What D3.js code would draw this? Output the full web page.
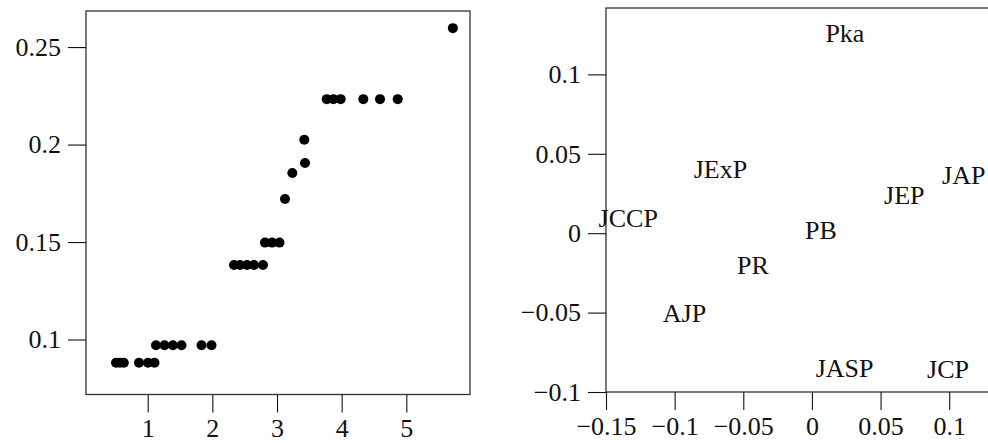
<!DOCTYPE html>
<html>
<head>
<meta charset="utf-8">
<script src="https://cdn.jsdelivr.net/npm/d3@7"></script>
</head>
<body style="margin:0">
<script>
// left panel: sorted values (index scale on x)
const dotX = [0.51, 0.57, 0.63, 0.865, 1.005, 1.105,
              1.128, 1.26, 1.39, 1.523, 1.832, 1.987,
              2.335, 2.428, 2.536, 2.644, 2.783,
              2.814, 2.923, 3.039,
              3.124, 3.237, 3.422, 3.433,
              3.769, 3.871, 3.985, 4.335, 4.593, 4.867,
              5.72];
const dotY = [0.0881, 0.0881, 0.0881, 0.0881, 0.0881, 0.0881,
              0.0971, 0.0971, 0.0971, 0.0971, 0.0971, 0.0971,
              0.1382, 0.1382, 0.1382, 0.1382, 0.1382,
              0.1497, 0.1497, 0.1497,
              0.1721, 0.1854, 0.2025, 0.1905,
              0.2233, 0.2233, 0.2233, 0.2233, 0.2233, 0.2233,
              0.2597];

// right panel: labelled coordinates
const journals = ["Pka", "JExP", "JAP", "JEP", "JCCP", "PB", "PR", "AJP", "JASP", "JCP"];
const coordX = [0.024, -0.0666, 0.1106, 0.0673, -0.1338, 0.0066, -0.043, -0.0928, 0.0238, 0.0991];
const coordY = [0.126, 0.040, 0.0366, 0.024, 0.0093, 0.0017, -0.0204, -0.0506, -0.0853, -0.0858];

const leftXTicks = [1, 2, 3, 4, 5];
const leftYTicks = [0.1, 0.15, 0.2, 0.25];
const rightXTicks = [-0.15, -0.1, -0.05, 0, 0.05, 0.1];
const rightYTicks = [-0.1, -0.05, 0, 0.05, 0.1];

const W = 988, H = 443;
const face = "Liberation Serif";
const fontSize = 26;
const fmt = d => d3.format("")(d);

const svg = d3.select("body").append("svg")
  .attr("width", W)
  .attr("height", H)
  .style("font-family", `'${face}'`);

// make a text element use the serif face
function serifText(sel) {
  sel.attr("font-family", `'${face}'`)
    .attr("font-size", fontSize)
    .attr("fill", "#111");
}

// draw one framed panel with its axes
function panel(x, y, xTicks, yTicks) {
  const [x0, x1] = x.range();
  const [y0, y1] = y.range();

  svg.append("rect")
    .attr("x", x0).attr("y", y1)
    .attr("width", x1 - x0).attr("height", y0 - y1)
    .attr("fill", "none")
    .attr("stroke", "#333")
    .attr("stroke-width", 1.3);

  const gx = svg.append("g")
    .attr("transform", `translate(0,${y0})`)
    .call(d3.axisBottom(x).tickValues(xTicks).tickFormat(fmt).tickSize(18).tickPadding(6.5));
  const gy = svg.append("g")
    .attr("transform", `translate(${x0},0)`)
    .call(d3.axisLeft(y).tickValues(yTicks).tickFormat(fmt).tickSize(18).tickPadding(7));

  [gx, gy].forEach(g => {
    g.attr("font-family", null).attr("font-size", null);
    g.select(".domain").remove();
    g.selectAll(".tick line").attr("stroke", "#111").attr("stroke-width", 1.1);
    g.selectAll(".tick text").call(serifText);
  });
}

// left panel
const xL = d3.scaleLinear().domain([0.0456, 5.985]).range([86, 470]);
const yL = d3.scaleLinear().domain([0.0718, 0.2685]).range([394.5, 11]);
panel(xL, yL, leftXTicks, leftYTicks);

svg.append("g")
  .selectAll("circle")
  .data(dotX.map((d, i) => [d, dotY[i]]))
  .enter()
  .append("circle")
  .attr("cx", d => xL(d[0]))
  .attr("cy", d => yL(d[1]))
  .attr("r", 5)
  .attr("fill", "#000");

// right panel
const xR = d3.scaleLinear().domain([-0.15, 0.1297]).range([606, 990]);
const yR = d3.scaleLinear().domain([-0.1, 0.1418]).range([392, 8]);
panel(xR, yR, rightXTicks, rightYTicks);

svg.append("g")
  .selectAll("text")
  .data(journals)
  .enter()
  .append("text")
  .attr("x", (d, i) => xR(coordX[i]))
  .attr("y", (d, i) => yR(coordY[i]))
  .attr("dy", "0.33em")
  .attr("text-anchor", "middle")
  .call(serifText)
  .text(d => d);
</script>
</body>
</html>
